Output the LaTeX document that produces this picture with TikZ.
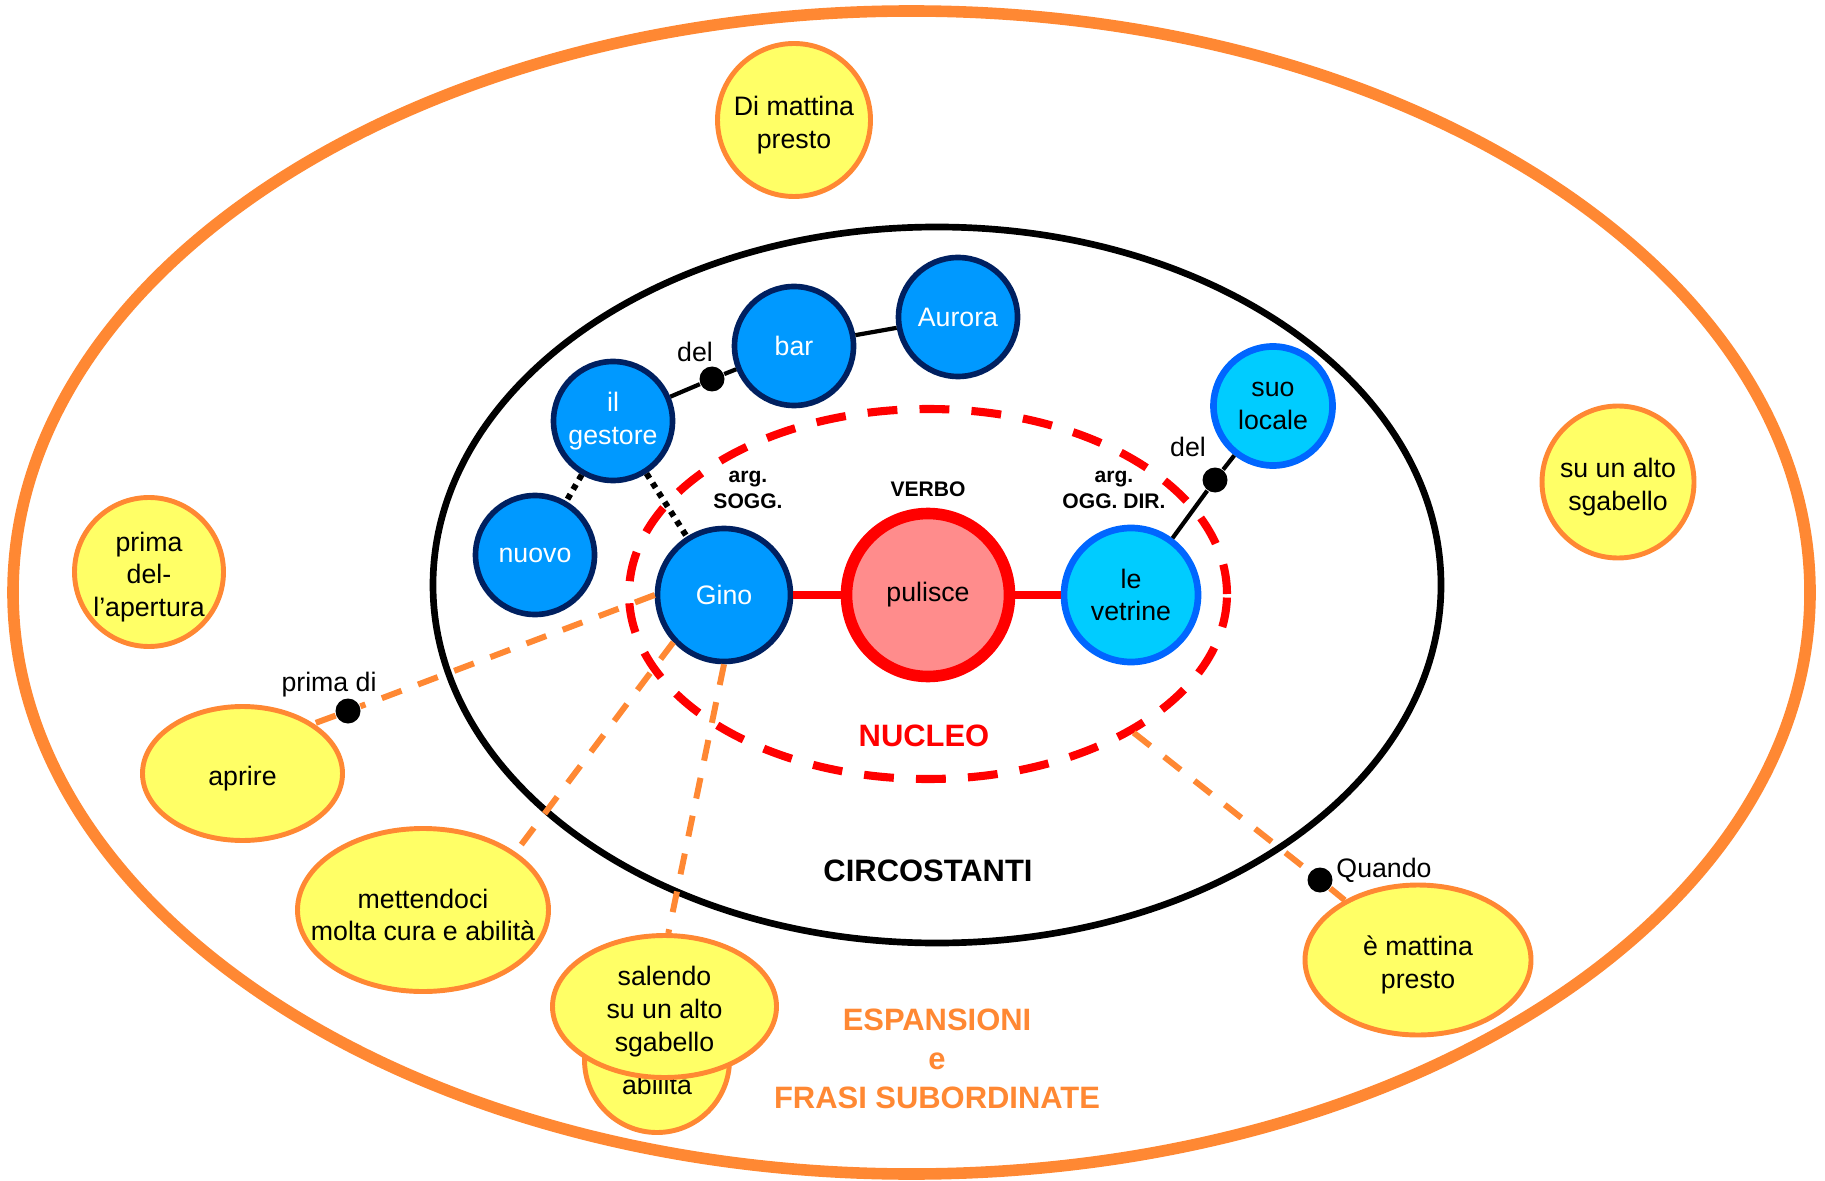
\documentclass[tikz,border=0pt]{standalone}
\usepackage{fontspec}
\setmainfont{Liberation Sans}
\usetikzlibrary{shapes.geometric}

\definecolor{espOrange}{RGB}{255,136,51}
\definecolor{espYellow}{RGB}{255,255,102}
\definecolor{argBlue}{RGB}{0,153,255}
\definecolor{argNavy}{RGB}{0,32,96}
\definecolor{oggCyan}{RGB}{0,204,255}
\definecolor{oggBlue}{RGB}{0,102,255}
\definecolor{verbPink}{RGB}{255,140,140}

\begin{document}
\begin{tikzpicture}[
    txt/.style={font=\fontsize{7.6}{9.3}\selectfont, align=center},
    intxt/.style={txt, yshift=-0.05cm},
    tag/.style={font=\bfseries\fontsize{6}{7.4}\selectfont, align=center},
    zone/.style={font=\bfseries\fontsize{8.8}{11}\selectfont, align=center},
    arg/.style={circle, draw=argNavy, fill=argBlue, line width=1.6pt,
        inner sep=0pt, minimum size=1.19cm, text=white, txt},
    ogg/.style={circle, draw=oggBlue, fill=oggCyan, line width=1.9pt,
        inner sep=0pt, minimum size=1.19cm, txt},
    esp/.style={ellipse, draw=espOrange, fill=espYellow, line width=1.4pt,
        inner sep=0pt},
    knot/.style={circle, fill=black, inner sep=0pt, minimum size=0.25cm},
    link/.style={line width=1.2pt},
    dotlink/.style={line width=1.7pt, dash pattern=on 1.6pt off 1.6pt},
    verblink/.style={draw=red, line width=2.5pt},
    esplink/.style={draw=espOrange, line width=1.7pt, dash pattern=on 6pt off 5pt}
]
\useasboundingbox (0,0) rectangle (18.25,11.8);

% ambiti
\node[ellipse, draw=espOrange, line width=3.3pt, inner sep=0pt,
    minimum width=17.97cm, minimum height=11.63cm] (espansioni) at (9.115,5.875) {};
\node[ellipse, draw=black, line width=1.9pt, inner sep=0pt,
    minimum width=10.08cm, minimum height=7.16cm] (circostanti) at (9.37,5.95) {};
\node[ellipse, draw=red, line width=2.3pt, dash pattern=on 8.5pt off 6.3pt, inner sep=0pt,
    minimum width=5.98cm, minimum height=3.70cm] (nucleo) at (9.28,5.86) {};

% nucleo
\node[arg, minimum size=1.33cm] (gino) at (7.24,5.85) {Gino};
\node[circle, draw=red, fill=verbPink, line width=3.3pt, inner sep=0pt,
    minimum size=1.63cm, txt] (pulisce) at (9.28,5.85) {pulisce\vphantom{l}};
\node[ogg, minimum size=1.34cm] (vetrine) at (11.31,5.85) {le\\vetrine};

\node[arg] (nuovo) at (5.35,6.25) {nuovo};
\node[arg] (gestore) at (6.13,7.59) {il\\gestore};
\node[arg] (bar) at (7.94,8.34) {bar};
\node[arg] (aurora) at (9.58,8.63) {Aurora};
\node[ogg] (locale) at (12.73,7.74) {suo\\locale};

\node[knot] (d1) at (7.12,8.01) {};
\node[knot] (d2) at (12.15,7.00) {};
\node[knot] (d3) at (3.48,4.69) {};
\node[knot] (d4) at (13.20,3.00) {};

% espansioni
\node[esp, minimum width=1.53cm, minimum height=1.53cm,
    label={[intxt]center:{Di mattina\\presto}}] (mattina) at (7.94,10.60) {};
\node[esp, minimum width=1.52cm, minimum height=1.52cm,
    label={[intxt]center:{su un alto\\sgabello}}] (sgabello) at (16.18,6.98) {};
\node[esp, minimum width=1.49cm, minimum height=1.49cm,
    label={[intxt]center:{prima\\del-\\l’apertura}}] (apertura) at (1.49,6.08) {};
\node[esp, minimum width=2.00cm, minimum height=1.34cm,
    label={[intxt]center:aprire}] (aprire) at (2.425,4.065) {};
\node[esp, minimum width=2.51cm, minimum height=1.63cm,
    label={[intxt]center:{mettendoci\\molta cura e abilità}}] (cura) at (4.23,2.70) {};
\node[esp, minimum width=1.45cm, minimum height=1.45cm,
    label={[txt, yshift=-0.25cm]center:abilità}] (abilita) at (6.57,1.20) {};
\node[esp, minimum width=2.24cm, minimum height=1.42cm,
    label={[intxt]center:{salendo\\su un alto\\sgabello}}] (salendo) at (6.645,1.735) {};
\node[esp, minimum width=2.26cm, minimum height=1.50cm,
    label={[intxt]center:{è mattina\\presto}}] (emattina) at (14.18,2.20) {};

% testi
\node[txt] (del1) at (6.95,8.28) {del};
\node[txt] (del2) at (11.88,7.33) {del};
\node[txt] (primadi) at (3.29,4.95) {prima di};
\node[txt] (quando) at (13.84,3.10) {Quando};
\node[tag] (sogg) at (7.48,6.90) {arg.\\SOGG.};
\node[tag] (verbo) at (9.28,6.91) {VERBO};
\node[tag] (oggdir) at (11.14,6.90) {arg.\\OGG. DIR.};
\node[zone, text=red] (nucleolbl) at (9.24,4.44) {NUCLEO};
\node[zone] (circlbl) at (9.28,3.09) {CIRCOSTANTI};
\node[zone, text=espOrange] (esplbl) at (9.37,1.21) {ESPANSIONI\\e\\FRASI SUBORDINATE};

% collegamenti
\draw[verblink] (gino) -- (pulisce);
\draw[verblink] (pulisce) -- (vetrine);
\draw[link] (gestore) -- (d1) -- (bar);
\draw[link] (bar) -- (aurora);
\draw[dotlink] (gestore) -- (nuovo);
\draw[dotlink] (gestore) -- (gino);
\draw[link] (vetrine) -- (d2) -- (locale);
\draw[esplink] (gino.west) -- (d3) -- (aprire.35);
\draw[esplink] (gino.223) -- (cura.32);
\draw[esplink] (gino.south) -- (salendo.87);
\draw[esplink] (nucleo.-34) -- (d4) -- (emattina);
\end{tikzpicture}
\end{document}
